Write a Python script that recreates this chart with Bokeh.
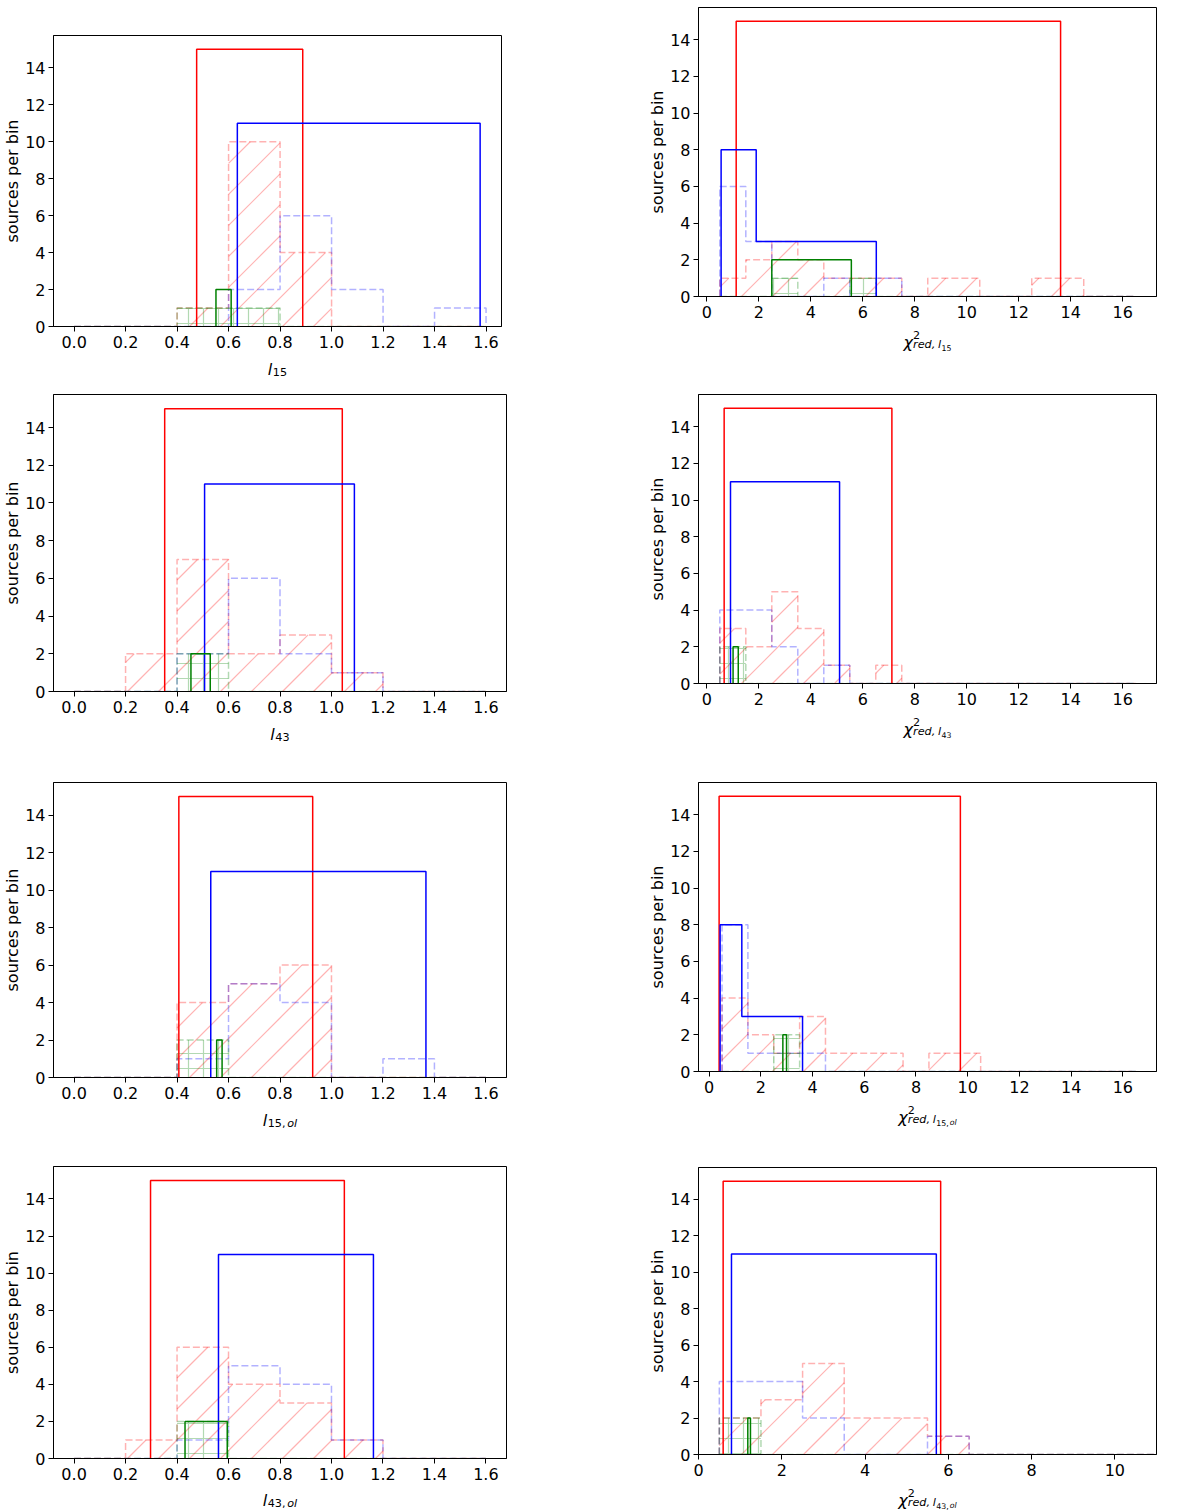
#!/usr/bin/env python3
import math
from bokeh.plotting import figure
from bokeh.layouts import column, row
from bokeh.models import Range1d, FixedTicker, PrintfTickFormatter
from bokeh.core.properties import value
from bokeh.embed import file_html
from bokeh.resources import INLINE

FONT = "DejaVu Sans"

# ticks
Y_TICKS = [0, 2, 4, 6, 8, 10, 12, 14]
L_TICKS = [0.0, 0.2, 0.4, 0.6, 0.8, 1.0, 1.2, 1.4, 1.6]
CHI_TICKS = [0, 2, 4, 6, 8, 10, 12, 14, 16]
CHI_TICKS_SHORT = [0, 2, 4, 6, 8, 10]

# bin edges of the dashed (binned) histograms
L_BINS = [0.0, 0.2, 0.4, 0.6, 0.8, 1.0, 1.2, 1.4, 1.6]
CHI_BINS = [0.5, 1.5, 2.5, 3.5, 4.5, 5.5, 6.5, 7.5, 8.5, 9.5, 10.5,
            11.5, 12.5, 13.5, 14.5, 15.5, 16.5]

# --- l_15
l15_red_edges, l15_red_counts = [0.476, 0.888], [15]
l15_blue_edges, l15_blue_counts = [0.634, 1.577], [11]
l15_green_edges, l15_green_counts = [0.551, 0.610], [2]
l15_red_binned = [0, 0, 1, 10, 4, 0, 0, 0]
l15_blue_binned = [0, 0, 0, 2, 6, 2, 0, 1]
l15_green_binned = [0, 0, 1, 1, 0, 0, 0, 0]

# --- chi2 l_15
c15_red_edges, c15_red_counts = [1.13, 13.61], [15]
c15_blue_edges, c15_blue_counts = [0.55, 1.90, 6.52], [8, 3]
c15_green_edges, c15_green_counts = [2.50, 5.56], [2]
c15_red_binned = [1, 2, 3, 2, 1, 1, 1, 0, 1, 1, 0, 0, 1, 1, 0, 0]
c15_blue_binned = [6, 3, 0, 0, 1, 0, 1, 0, 0, 0, 0, 0, 0, 0, 0, 0]
c15_green_binned = [0, 0, 1, 0, 0, 1, 0, 0, 0, 0, 0, 0, 0, 0, 0, 0]

# --- l_43
l43_red_edges, l43_red_counts = [0.352, 1.042], [15]
l43_blue_edges, l43_blue_counts = [0.507, 1.089], [11]
l43_green_edges, l43_green_counts = [0.454, 0.529], [2]
l43_red_binned = [0, 2, 7, 2, 3, 1, 0, 0]
l43_blue_binned = [0, 0, 2, 6, 2, 1, 0, 0]
l43_green_binned = [0, 0, 2, 0, 0, 0, 0, 0]

# --- chi2 l_43
c43_red_edges, c43_red_counts = [0.667, 7.12], [15]
c43_blue_edges, c43_blue_counts = [0.911, 5.107], [11]
c43_green_edges, c43_green_counts = [1.01, 1.21], [2]
c43_red_binned = [3, 2, 5, 3, 1, 0, 1, 0, 0, 0, 0, 0, 0, 0, 0, 0]
c43_blue_binned = [4, 4, 2, 0, 1, 0, 0, 0, 0, 0, 0, 0, 0, 0, 0, 0]
c43_green_binned = [2, 0, 0, 0, 0, 0, 0, 0, 0, 0, 0, 0, 0, 0, 0, 0]

# --- l_15,ol
l15ol_red_edges, l15ol_red_counts = [0.407, 0.927], [15]
l15ol_blue_edges, l15ol_blue_counts = [0.531, 1.367], [11]
l15ol_green_edges, l15ol_green_counts = [0.554, 0.575], [2]
l15ol_red_binned = [0, 0, 4, 5, 6, 0, 0, 0]
l15ol_blue_binned = [0, 0, 1, 5, 4, 0, 1, 0]
l15ol_green_binned = [0, 0, 2, 0, 0, 0, 0, 0]

# --- chi2 l_15,ol
c15ol_red_edges, c15ol_red_counts = [0.387, 9.716], [15]
c15ol_blue_edges, c15ol_blue_counts = [0.426, 1.265, 3.613], [8, 3]
c15ol_green_edges, c15ol_green_counts = [2.852, 2.994], [2]
c15ol_red_binned = [4, 2, 1, 3, 1, 1, 1, 0, 1, 1, 0, 0, 0, 0, 0, 0]
c15ol_blue_binned = [8, 1, 1, 1, 0, 0, 0, 0, 0, 0, 0, 0, 0, 0, 0, 0]
c15ol_green_binned = [0, 0, 2, 0, 0, 0, 0, 0, 0, 0, 0, 0, 0, 0, 0, 0]

# --- l_43,ol
l43ol_red_edges, l43ol_red_counts = [0.297, 1.050], [15]
l43ol_blue_edges, l43ol_blue_counts = [0.561, 1.163], [11]
l43ol_green_edges, l43ol_green_counts = [0.431, 0.595], [2]
l43ol_red_binned = [0, 1, 6, 4, 3, 1, 0, 0]
l43ol_blue_binned = [0, 0, 1, 5, 4, 1, 0, 0]
l43ol_green_binned = [0, 0, 2, 0, 0, 0, 0, 0]

# --- chi2 l_43,ol
c43ol_red_edges, c43ol_red_counts = [0.592, 5.816], [15]
c43ol_blue_edges, c43ol_blue_counts = [0.792, 5.712], [11]
c43ol_green_edges, c43ol_green_counts = [1.184, 1.248], [2]
c43ol_red_binned = [2, 3, 5, 2, 2, 1, 0, 0, 0, 0, 0, 0, 0, 0, 0, 0]
c43ol_blue_binned = [4, 4, 2, 0, 0, 1, 0, 0, 0, 0, 0, 0, 0, 0, 0, 0]
c43ol_green_binned = [2, 0, 0, 0, 0, 0, 0, 0, 0, 0, 0, 0, 0, 0, 0, 0]

Y_TOP = 15.75
HATCH_STEP = 31  # px between the "/" hatch lines, along x


def step_xy(edges, counts):
    xs, ys = [edges[0]], [0]
    for i, c in enumerate(counts):
        xs += [edges[i], edges[i + 1]]
        ys += [c, c]
    xs.append(edges[-1])
    ys.append(0)
    return xs, ys


def solid_hist(p, edges, counts, color):
    xs, ys = step_xy(edges, counts)
    p.line(xs, ys, line_color=color, line_width=1.5)


def diag_hatch(p, edges, counts, color, frame_w, frame_h):
    # matplotlib-like 45 degree "/" hatch, clipped to every bin
    x0, x1 = p.x_range.start, p.x_range.end
    sx = frame_w / (x1 - x0)
    sy = frame_h / Y_TOP
    xa, ya, xb, yb = [], [], [], []
    for i, c in enumerate(counts):
        if c <= 0:
            continue
        left = (edges[i] - x0) * sx
        right = (edges[i + 1] - x0) * sx
        top = c * sy
        for k in range(math.floor((left - top) / HATCH_STEP), math.ceil(right / HATCH_STEP) + 1):
            off = k * HATCH_STEP + 12
            lo = max(0.0, left - off)
            hi = min(top, right - off)
            if hi > lo:
                xa.append(x0 + (off + lo) / sx)
                ya.append(lo / sy)
                xb.append(x0 + (off + hi) / sx)
                yb.append(hi / sy)
    p.segment(xa, ya, xb, yb, line_color=color, line_alpha=0.3, line_width=1.2)


def dashed_hist(p, edges, counts, color, hatch=None, frame=None):
    if hatch == "/":
        diag_hatch(p, edges, counts, color, *frame)
    elif hatch == "+":
        p.quad(left=edges[:-1], right=edges[1:], top=counts, bottom=0,
               fill_color=None, line_color=None,
               hatch_pattern="+", hatch_color=color, hatch_alpha=0.3,
               hatch_scale=15, hatch_weight=1.2)
    xs, ys = step_xy(edges, counts)
    p.line(xs, ys, line_color=color, line_alpha=0.3, line_width=1.5, line_dash="7 3")


# x axis labels (mathtext look): (text, size px, dx, dy, style)
def l_pieces(sub):
    return [("l", 16, 0, 0, "italic"), (sub, 11.2, 5.0, -2.5, "normal")], 19.3


def l_ol_pieces(sub):
    return [("l", 16, 0, 0, "italic"), (sub + ",", 11.2, 5.0, -2.5, "normal"),
            ("ol", 11.2, 24.5, -2.5, "italic")], 34.5


def chi_pieces(sub):
    return [("χ", 16, 0, 0, "italic"), ("2", 11.2, 9.6, 7.5, "normal"),
            ("red,", 11.2, 9.6, -2, "italic"), ("l", 11.2, 34.5, -2, "italic"),
            (sub, 7.84, 38.0, -5, "normal")], 48.0


def chi_ol_pieces(sub):
    return [("χ", 16, 0, 0, "italic"), ("2", 11.2, 9.6, 7.5, "normal"),
            ("red,", 11.2, 9.6, -2, "italic"), ("l", 11.2, 34.5, -2, "italic"),
            (sub + ",", 7.84, 38.0, -5, "normal"), ("ol", 7.84, 51.5, -5, "italic")], 58.5


def label_strip(label, x_range, height, base_y):
    # strip under a panel; a column aligns its frame with the panel's frame
    pieces, total = label
    s = figure(width=600, height=height, x_range=x_range, y_range=Range1d(0, height),
               x_axis_type=None, y_axis_type=None, output_backend="svg",
               toolbar_location=None, min_border=0)
    s.outline_line_color = None
    xc = (x_range.start + x_range.end) / 2
    for text, size, dx, dy, style in pieces:
        s.text(x=[xc], y=[base_y + dy], text=[text], x_offset=dx - total / 2,
               text_font=value(FONT), text_font_size=value("%.1fpx" % size),
               text_font_style=value(style), text_color="black",
               text_align="left", text_baseline="alphabetic")
    return s


def panel(x_range, xticks, xfmt, height, borders, hists):
    left, right, top, bottom = borders
    p = figure(width=600, height=height, x_range=Range1d(*x_range), y_range=Range1d(0, Y_TOP),
               output_backend="svg", toolbar_location=None,
               min_border_left=left, min_border_right=right,
               min_border_top=top, min_border_bottom=bottom)
    p.xgrid.visible = False
    p.ygrid.visible = False
    p.outline_line_color = "black"
    p.outline_line_alpha = 1.0
    p.outline_line_width = 1

    p.xaxis.ticker = FixedTicker(ticks=xticks)
    p.xaxis.formatter = PrintfTickFormatter(format=xfmt)
    p.yaxis.ticker = FixedTicker(ticks=Y_TICKS)
    for ax in (p.xaxis[0], p.yaxis[0]):
        ax.axis_line_color = "black"
        ax.major_tick_line_color = "black"
        ax.major_tick_in = 0
        ax.major_tick_out = 5
        ax.minor_tick_line_color = None
        ax.major_label_text_font = FONT
        ax.major_label_text_font_size = "16px"
        ax.major_label_text_color = "black"
    p.xaxis.major_label_standoff = 4
    p.yaxis.major_label_standoff = 3
    p.yaxis.axis_label = "sources per bin"
    p.yaxis.axis_label_text_font = FONT
    p.yaxis.axis_label_text_font_size = "16px"
    p.yaxis.axis_label_text_font_style = "normal"
    p.yaxis.axis_label_text_color = "black"
    p.yaxis.axis_label_standoff = 0

    frame = (600 - left - right, height - top - bottom)
    bins, red_b, blue_b, green_b, red_e, red_c, blue_e, blue_c, green_e, green_c = hists
    dashed_hist(p, bins, red_b, "red", hatch="/", frame=frame)
    dashed_hist(p, bins, blue_b, "blue")
    dashed_hist(p, bins, green_b, "green", hatch="+")
    solid_hist(p, red_e, red_c, "red")
    solid_hist(p, blue_e, blue_c, "blue")
    solid_hist(p, green_e, green_c, "green")
    return p


L_RANGE = (-0.08, 1.68)
CHI_RANGE = (-0.32, 17.3)
LEFT_B = (53, 94)
RIGHT_B = (98, 44)
XB = 27  # room under each frame for the tick labels

p1 = panel((-0.08, 1.66), L_TICKS, "%.1f", 353, (53, 99, 35, XB),
           (L_BINS, l15_red_binned, l15_blue_binned, l15_green_binned,
            l15_red_edges, l15_red_counts, l15_blue_edges, l15_blue_counts,
            l15_green_edges, l15_green_counts))
s1 = label_strip(l_pieces("15"), p1.x_range, 32, 16)

p2 = panel(CHI_RANGE, CHI_TICKS, "%d", 323, RIGHT_B + (7, XB),
           (CHI_BINS, c15_red_binned, c15_blue_binned, c15_green_binned,
            c15_red_edges, c15_red_counts, c15_blue_edges, c15_blue_counts,
            c15_green_edges, c15_green_counts))
s2 = label_strip(chi_pieces("15"), p2.x_range, 62, 43)

p3 = panel(L_RANGE, L_TICKS, "%.1f", 333, LEFT_B + (9, XB),
           (L_BINS, l43_red_binned, l43_blue_binned, l43_green_binned,
            l43_red_edges, l43_red_counts, l43_blue_edges, l43_blue_counts,
            l43_green_edges, l43_green_counts))
s3 = label_strip(l_pieces("43"), p3.x_range, 57, 41)

p4 = panel(CHI_RANGE, CHI_TICKS, "%d", 325, RIGHT_B + (9, XB),
           (CHI_BINS, c43_red_binned, c43_blue_binned, c43_green_binned,
            c43_red_edges, c43_red_counts, c43_blue_edges, c43_blue_counts,
            c43_green_edges, c43_green_counts))
s4 = label_strip(chi_pieces("43"), p4.x_range, 65, 46)

p5 = panel(L_RANGE, L_TICKS, "%.1f", 329, LEFT_B + (7, XB),
           (L_BINS, l15ol_red_binned, l15ol_blue_binned, l15ol_green_binned,
            l15ol_red_edges, l15ol_red_counts, l15ol_blue_edges, l15ol_blue_counts,
            l15ol_green_edges, l15ol_green_counts))
s5 = label_strip(l_ol_pieces("15"), p5.x_range, 56, 40)

p6 = panel((-0.41, 17.3), CHI_TICKS, "%d", 323, RIGHT_B + (7, XB),
           (CHI_BINS, c15ol_red_binned, c15ol_blue_binned, c15ol_green_binned,
            c15ol_red_edges, c15ol_red_counts, c15ol_blue_edges, c15ol_blue_counts,
            c15ol_green_edges, c15ol_green_counts))
s6 = label_strip(chi_ol_pieces("15"), p6.x_range, 62, 43)

p7 = panel(L_RANGE, L_TICKS, "%.1f", 325, LEFT_B + (6, XB),
           (L_BINS, l43ol_red_binned, l43ol_blue_binned, l43ol_green_binned,
            l43ol_red_edges, l43ol_red_counts, l43ol_blue_edges, l43ol_blue_counts,
            l43ol_green_edges, l43ol_green_counts))
s7 = label_strip(l_ol_pieces("43"), p7.x_range, 25, 10)

p8 = panel((0, 11), CHI_TICKS_SHORT, "%d", 321, RIGHT_B + (7, XB),
           (CHI_BINS, c43ol_red_binned, c43ol_blue_binned, c43ol_green_binned,
            c43ol_red_edges, c43ol_red_counts, c43ol_blue_edges, c43ol_blue_counts,
            c43ol_green_edges, c43ol_green_counts))
s8 = label_strip(chi_ol_pieces("43"), p8.x_range, 29, 10)

layout = column(
    row(column(p1, s1), column(p2, s2)),
    row(column(p3, s3), column(p4, s4)),
    row(column(p5, s5), column(p6, s6)),
    row(column(p7, s7), column(p8, s8)),
)

open("out.html", "w").write(file_html(layout, INLINE))
